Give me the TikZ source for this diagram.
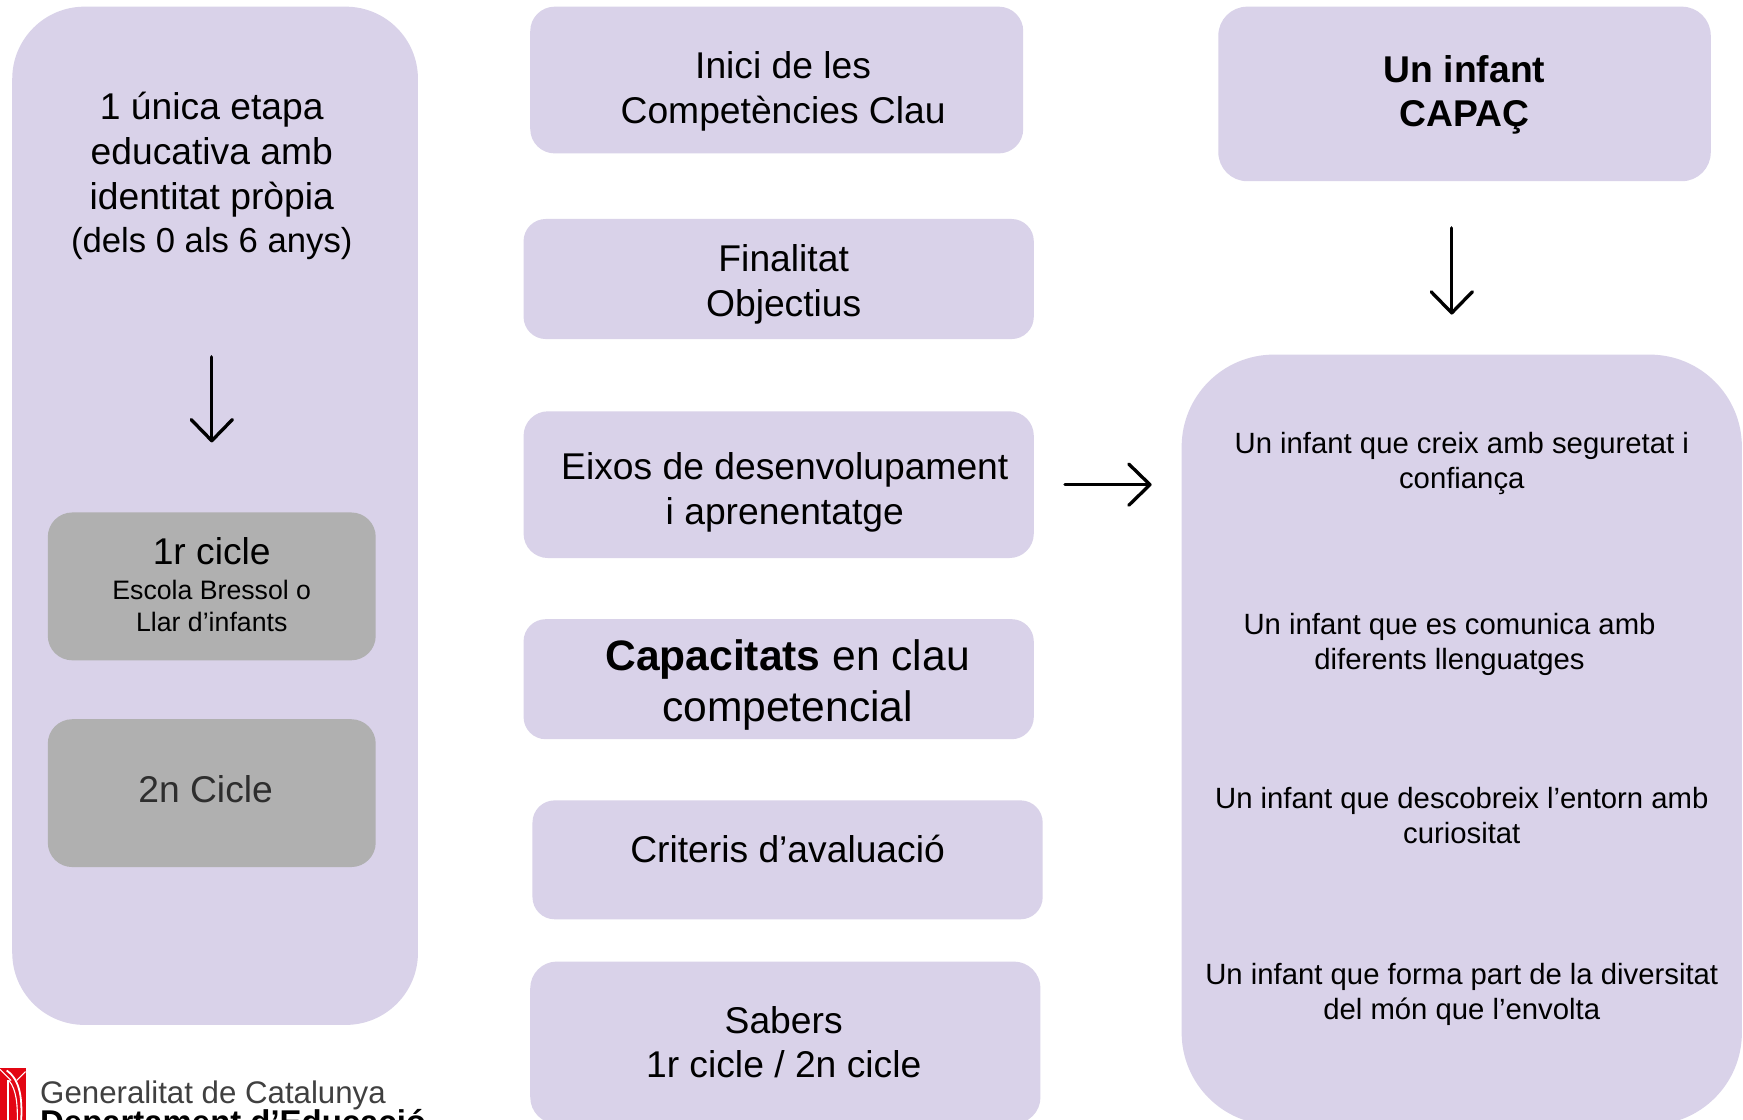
\documentclass[tikz,border=0pt]{standalone}
\usepackage{fontspec}
\setmainfont{Liberation Sans}
\usetikzlibrary{arrows.meta}
\definecolor{lila}{HTML}{D9D2E9}
\definecolor{gris}{HTML}{B0B0B0}
\definecolor{catred}{HTML}{E30613}
\tikzset{
  x=1pt,y=-1pt,
  big/.style={font=\fontsize{33.5}{40}\selectfont,align=center,text=black,inner sep=0pt},
  mid/.style={font=\fontsize{26.35}{31.4}\selectfont,align=center,text=black,inner sep=0pt},
  small/.style={font=\fontsize{24}{29}\selectfont,align=center,text=black,inner sep=0pt},
  arr/.style={line width=3pt,line cap=round,-{Straight Barb[length=19pt,width=37pt,line width=3pt,round]}},
}
\begin{document}
\begin{tikzpicture}
\useasboundingbox (0,0) rectangle (1568,1006.7);
\clip (0,0) rectangle (1568,1006.7);
\fill[white] (0,0) rectangle (1568,1006.7);
\fill[lila,rounded corners=65pt] (11,6) rectangle (376,922);
\fill[gris,rounded corners=22pt] (43,461) rectangle (338,594);
\fill[gris,rounded corners=22pt] (43,647) rectangle (338,780);
\fill[lila,rounded corners=22pt] (477,6) rectangle (920.5,138);
\fill[lila,rounded corners=20pt] (471,197) rectangle (930,305);
\fill[lila,rounded corners=22pt] (471,370) rectangle (930,502);
\fill[lila,rounded corners=20pt] (471,557) rectangle (930,665);
\fill[lila,rounded corners=20pt] (479,720) rectangle (938,827);
\fill[lila,rounded corners=24pt] (477,865) rectangle (936,1011);
\fill[lila,rounded corners=26pt] (1096,6) rectangle (1539,163);
\fill[lila,rounded corners=83pt] (1063,319) rectangle (1567,1012);
\node[big,font=\fontsize{33.5}{40.3}\selectfont,anchor=north] (etapa) at (190.5,83) {1 única etapa\\educativa amb\\identitat pròpia};
\node[big,font=\fontsize{31.2}{38}\selectfont] (etapab) at (190.5,219) {(dels 0 als 6 anys)};
\node[big] (c1) at (190.5,496) {1r cicle};
\node[small] (c1b) at (190.5,545) {Escola Bressol o\\Llar d’infants};
\node[big,text=black!82] (c2) at (185,710) {2n Cicle};
\node[big] (inici) at (704.5,82) {Inici de les\\Competències Clau};
\node[big] (fin) at (705,256) {Finalitat\\Objectius};
\node[big] (eixos) at (706,443) {Eixos de desenvolupament\\i aprenentatge};
\node[font=\fontsize{38.3}{45.5}\selectfont,align=center,inner sep=0pt] (cap) at (708.5,616) {\textbf{Capacitats} en clau\\competencial};
\node[big] (crit) at (708.5,764) {Criteris d’avaluació};
\node[big] (sab) at (705,937.5) {Sabers\\1r cicle / 2n cicle};
\node[big,font=\fontsize{33.5}{40}\selectfont\bfseries] (capac) at (1317.5,85.5) {Un infant\\CAPAÇ};
\node[mid] (t1) at (1315,417) {Un infant que creix amb seguretat i\\confiança};
\node[mid] (t2) at (1304,580) {Un infant que es comunica amb\\diferents llenguatges};
\node[mid] (t3) at (1315,734) {Un infant que descobreix l’entorn amb\\curiositat};
\node[mid] (t4) at (1315,894.5) {Un infant que forma part de la diversitat\\del món que l’envolta};
\coordinate (a1s) at (190.5,321); \coordinate (a1e) at (190.5,398);
\coordinate (a2s) at (1306,205); \coordinate (a2e) at (1306,283);
\coordinate (a3s) at (958,436); \coordinate (a3e) at (1036,436);
\draw[arr] (a1s) -- (a1e);
\draw[arr] (a2s) -- (a2e);
\draw[arr] (a3s) -- (a3e);
% logo
\fill[catred] (0,961) rectangle (23,1010);
\fill[white] (6,972) rectangle (8,1010);
\draw[white,line width=1.6pt] (6,963) .. controls (19,972) and (20,990) .. (19,1010);
\draw[white,line width=1pt] (8,972) .. controls (15,980) and (16,995) .. (15.5,1010);
\draw[white,line width=1pt] (0,962) -- (10,972);
\draw[white,line width=1pt] (23,964) -- (15,972);
\node[anchor=base west,inner sep=0pt,font=\fontsize{28.1}{30}\selectfont,text=black!75] (gen) at (36,993) {Generalitat de Catalunya};
\node[anchor=base west,inner sep=0pt,font=\fontsize{29.6}{30}\selectfont\bfseries] (dep) at (36,1020) {Departament d’Educació};
\end{tikzpicture}
\end{document}
